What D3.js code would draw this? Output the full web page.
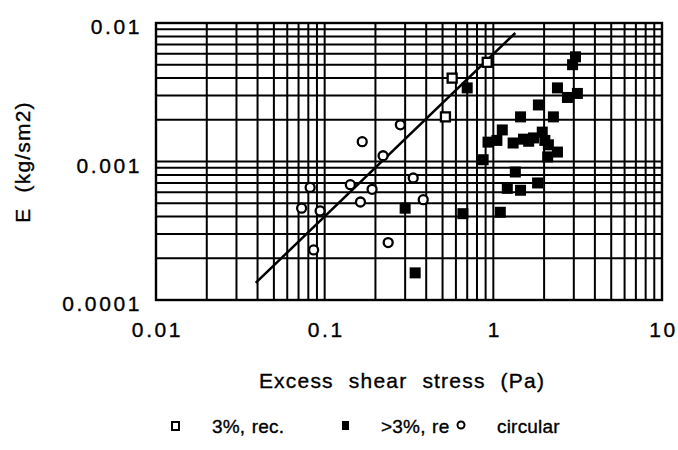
<!DOCTYPE html>
<html>
<head>
<meta charset="utf-8">
<title>erosion rate vs excess shear stress</title>
<script src="https://cdn.jsdelivr.net/npm/d3@7"></script>
<style>
    body { margin: 0; background: #fff; }
    svg text { font-family: "Liberation Sans", Arial, sans-serif; fill: #000; stroke: #000; stroke-width: 0.35px; }
    .tick-label { font-size: 21px; letter-spacing: 2.6px; }
    .title { font-size: 21px; letter-spacing: 1.2px; word-spacing: 8px; }
    .legend { font-size: 19px; letter-spacing: 0.2px; word-spacing: 1px; }
    .grid line { stroke: #000; stroke-width: 2px; }
</style>
</head>
<body>
<svg id="chart" width="678" height="450"></svg>
<script>
// tick labels
const xTicks = [0.01, 0.1, 1, 10];
const yTicks = [0.0001, 0.001, 0.01];

// series: "3%, rec." (open squares)
const recX = [0.52, 0.57, 0.92];
const recY = [0.0021, 0.0040, 0.0052];

// series: ">3%, re" (filled squares)
const reX = [0.30, 0.344, 0.66, 0.70, 0.87, 0.93, 1.05, 1.10, 1.13, 1.21, 1.31, 1.35, 1.45, 1.45, 1.51, 1.62, 1.73, 1.83, 1.85, 1.95, 2.02, 2.10, 2.12, 2.27, 2.40, 2.40, 2.75, 2.95, 3.07, 3.15];
const reY = [0.00046, 0.000157, 0.00042, 0.0034, 0.00103, 0.00138, 0.00142, 0.00043, 0.00169, 0.00064, 0.00136, 0.00084, 0.00062, 0.0021, 0.00145, 0.00140, 0.00148, 0.00070, 0.00256, 0.00163, 0.00142, 0.00108, 0.00132, 0.0021, 0.00117, 0.0034, 0.0029, 0.0050, 0.0057, 0.0031];

// series: circular (open circles)
const circX = [0.073, 0.082, 0.086, 0.094, 0.142, 0.163, 0.167, 0.191, 0.222, 0.238, 0.281, 0.335, 0.384];
const circY = [0.00046, 0.00065, 0.00023, 0.00044, 0.00068, 0.00051, 0.00139, 0.00063, 0.00110, 0.00026, 0.00184, 0.00076, 0.00053];

// fitted line end points
const fitX = [0.039, 1.35];
const fitY = [0.000133, 0.00847];

const mLeft = 156, mRight = 662, mTop = 23, mBottom = 300;

const svg = d3.select("#chart");
const x = d3.scaleLog().domain([0.01, 10]).range([mLeft, mRight]);
const y = d3.scaleLog().domain([0.0001, 0.01]).range([mBottom, mTop]);

// grid
const grid = svg.append("g").attr("class", "grid");
grid.selectAll(".vx").data(x.ticks()).join("line")
    .attr("x1", d => x(d)).attr("x2", d => x(d))
    .attr("y1", mTop).attr("y2", mBottom);
grid.selectAll(".hy").data(y.ticks()).join("line")
    .attr("x1", mLeft).attr("x2", mRight)
    .attr("y1", d => y(d)).attr("y2", d => y(d));

svg.append("rect")
    .attr("x", mLeft).attr("y", mTop)
    .attr("width", mRight - mLeft).attr("height", mBottom - mTop)
    .attr("fill", "none").attr("stroke", "#000").attr("stroke-width", 2.4);

// axes (labels only)
const xAxis = svg.append("g").attr("transform", "translate(1," + (mBottom + 19) + ")")
    .call(d3.axisBottom(x).tickValues(xTicks).tickSize(0).tickFormat(d => String(d)));
const yAxis = svg.append("g").attr("transform", "translate(" + (mLeft - 11) + ",0)")
    .call(d3.axisLeft(y).tickValues(yTicks).tickSize(0).tickFormat(d => String(d)));
[xAxis, yAxis].forEach(a => {
    a.select(".domain").remove();
    a.selectAll("text").attr("class", "tick-label");
    a.attr("font-family", null).attr("font-size", null);
});
yAxis.selectAll("text").attr("dy", "0.5em");

// fitted line
const fit = fitX.map((v, i) => [v, fitY[i]]);
svg.append("path")
    .attr("d", d3.line().x(d => x(d[0])).y(d => y(d[1]))(fit))
    .attr("stroke", "#000").attr("stroke-width", 2.5).attr("fill", "none");

// points
const circ = circX.map((v, i) => [v, circY[i]]);
svg.append("g").selectAll("circle").data(circ).join("circle")
    .attr("cx", d => x(d[0])).attr("cy", d => y(d[1])).attr("r", 4.5)
    .attr("fill", "#fff").attr("stroke", "#000").attr("stroke-width", 2.3);

const rec = recX.map((v, i) => [v, recY[i]]);
svg.append("g").selectAll("rect").data(rec).join("rect")
    .attr("x", d => x(d[0]) - 4.5).attr("y", d => y(d[1]) - 4.5)
    .attr("width", 9).attr("height", 9)
    .attr("fill", "#fff").attr("stroke", "#000").attr("stroke-width", 2.3);

const re = reX.map((v, i) => [v, reY[i]]);
svg.append("g").selectAll("rect").data(re).join("rect")
    .attr("x", d => x(d[0]) - 5.5).attr("y", d => y(d[1]) - 5.5)
    .attr("width", 11).attr("height", 11).attr("fill", "#000");

// titles
svg.append("text").attr("class", "title")
    .attr("x", 402).attr("y", 388).attr("text-anchor", "middle")
    .text("Excess shear stress (Pa)");
svg.append("text").attr("class", "title")
    .attr("transform", "translate(30,162) rotate(-90)").attr("text-anchor", "middle")
    .text("E (kg/sm2)");

// legend
const leg = svg.append("g").attr("transform", "translate(0,426)");
leg.append("rect").attr("x", 172).attr("y", -4).attr("width", 7).attr("height", 8)
    .attr("fill", "#fff").attr("stroke", "#000").attr("stroke-width", 2);
leg.append("text").attr("class", "legend").attr("x", 212).attr("y", 7).text("3%, rec.");
leg.append("rect").attr("x", 342).attr("y", -5).attr("width", 7).attr("height", 9).attr("fill", "#000");
leg.append("text").attr("class", "legend").attr("x", 381).attr("y", 7).text(">3%, re");
leg.append("circle").attr("cx", 461).attr("cy", -1).attr("r", 3.5)
    .attr("fill", "#fff").attr("stroke", "#000").attr("stroke-width", 2);
leg.append("text").attr("class", "legend").attr("x", 497).attr("y", 7).text("circular");
</script>
</body>
</html>
